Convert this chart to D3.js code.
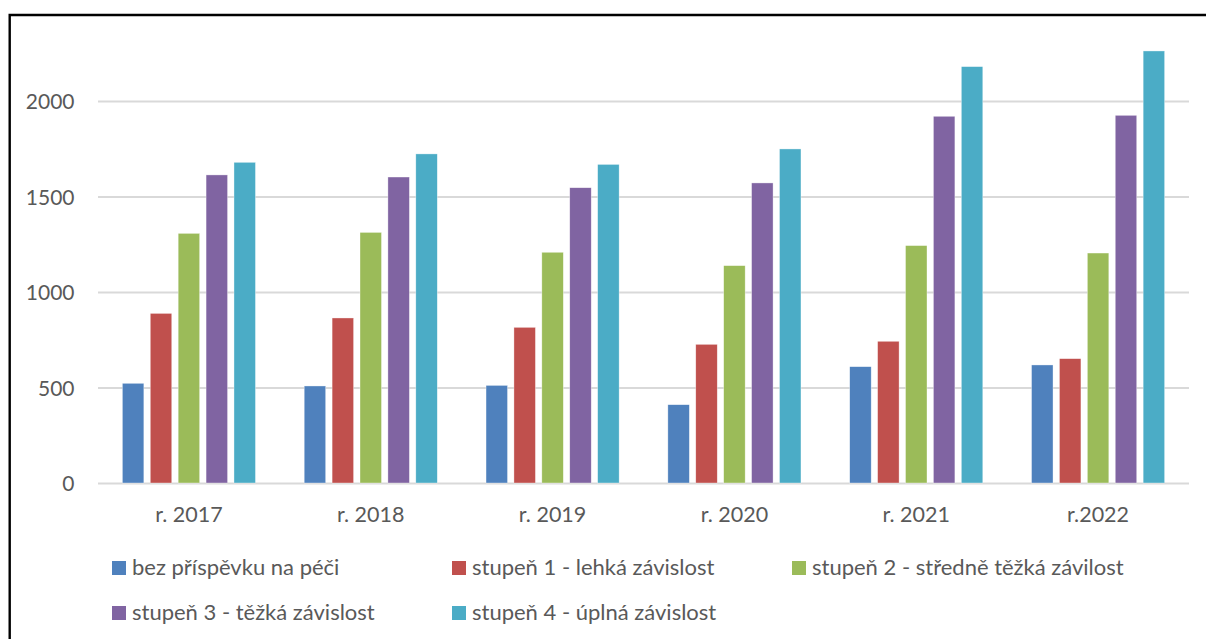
<!DOCTYPE html>
<html>
<head>
<meta charset="utf-8">
<script src="https://cdn.jsdelivr.net/npm/d3@7/dist/d3.min.js"></script>
<style>
  html, body { margin: 0; padding: 0; background: #fff; }
  svg { display: block; }
  text { font-family: Lato, "Open Sans", sans-serif; fill: #595959; }
</style>
</head>
<body>
<svg id="chart" width="1206" height="639"></svg>
<script>
const categories = ["r. 2017", "r. 2018", "r. 2019", "r. 2020", "r. 2021", "r.2022"];
const seriesNames = [
  "bez příspěvku na péči",
  "stupeň 1 - lehká závislost",
  "stupeň 2 - středně těžká závilost",
  "stupeň 3 - těžká závislost",
  "stupeň 4 - úplná závislost"
];
const bezPrispevku = [522, 508, 511, 410, 609, 618];
const stupen1 = [888, 864, 815, 726, 742, 651];
const stupen2 = [1307, 1312, 1208, 1138, 1243, 1204];
const stupen3 = [1613, 1602, 1546, 1571, 1920, 1925];
const stupen4 = [1679, 1723, 1668, 1749, 2180, 2262];
const yTicks = [0, 500, 1000, 1500, 2000];
const colors = ["#4F81BD", "#C0504D", "#9BBB59", "#8064A2", "#4BACC6"];

const seriesValues = [bezPrispevku, stupen1, stupen2, stupen3, stupen4];

const svg = d3.select("#chart");

// frame
svg.append("path")
  .attr("d", "M9.7,639 V15 H1206")
  .attr("fill", "none")
  .attr("stroke", "#000")
  .attr("stroke-width", 2.4);

const x0 = d3.scaleBand().domain(categories).range([98, 1189])
  .paddingInner(0.268).paddingOuter(0.134);
const x1 = d3.scaleBand().domain(d3.range(seriesNames.length))
  .range([0, x0.bandwidth()]).paddingInner(0.23).paddingOuter(0);
const y = d3.scaleLinear().domain([0, 2000]).range([483, 101]);

// gridlines
const yAxis = d3.axisLeft(y).tickValues(yTicks).tickFormat(d3.format("d")).tickSize(0).tickPadding(0);
const gy = svg.append("g").attr("transform", "translate(98,0)").call(yAxis);
gy.select(".domain").remove();
gy.selectAll(".tick line").remove();
gy.selectAll(".tick").append("line")
  .attr("x1", 0).attr("x2", 1189 - 98)
  .attr("stroke", "#D9D9D9").attr("stroke-width", 1.8);
gy.selectAll(".tick text")
  .attr("x", -23.5)
  .attr("dy", "0.36em")
  .attr("text-anchor", "end")
  .style("font-size", "21px")
  .style("fill", "#595959")
  .style("font-family", "Lato, 'Open Sans', sans-serif");

// bars
const groups = svg.append("g").selectAll("g")
  .data(categories)
  .join("g")
  .attr("transform", d => `translate(${x0(d)},0)`);

groups.selectAll("rect")
  .data((c, ci) => seriesValues.map((vals, si) => ({ si, v: vals[ci] })))
  .join("rect")
  .attr("x", d => x1(d.si))
  .attr("width", x1.bandwidth())
  .attr("y", d => y(d.v))
  .attr("height", d => y(0) - y(d.v))
  .attr("fill", d => colors[d.si])
  .attr("stroke", "#ffffff")
  .attr("stroke-opacity", 0.6)
  .attr("stroke-width", 0.6);

// x axis labels
const xAxis = d3.axisBottom(x0).tickSize(0).tickPadding(0);
const gx = svg.append("g").attr("transform", "translate(0,483)").call(xAxis);
gx.select(".domain").remove();
gx.selectAll(".tick text")
  .attr("y", 38.5)
  .attr("dy", 0)
  .style("font-size", "21.5px")
  .style("fill", "#595959")
  .style("font-family", "Lato, 'Open Sans', sans-serif");

// legend
const legCols = [112, 452, 792];
const legRows = [561, 606];
const legend = svg.append("g").selectAll("g")
  .data(seriesNames)
  .join("g")
  .attr("transform", (d, i) => `translate(${legCols[i % 3]},${legRows[Math.floor(i / 3)]})`);
legend.append("rect")
  .attr("width", 14).attr("height", 14)
  .attr("fill", (d, i) => colors[i]);
legend.append("text")
  .attr("x", 20).attr("y", 14)
  .style("font-size", "22px")
  .text(d => d);
</script>
</body>
</html>
